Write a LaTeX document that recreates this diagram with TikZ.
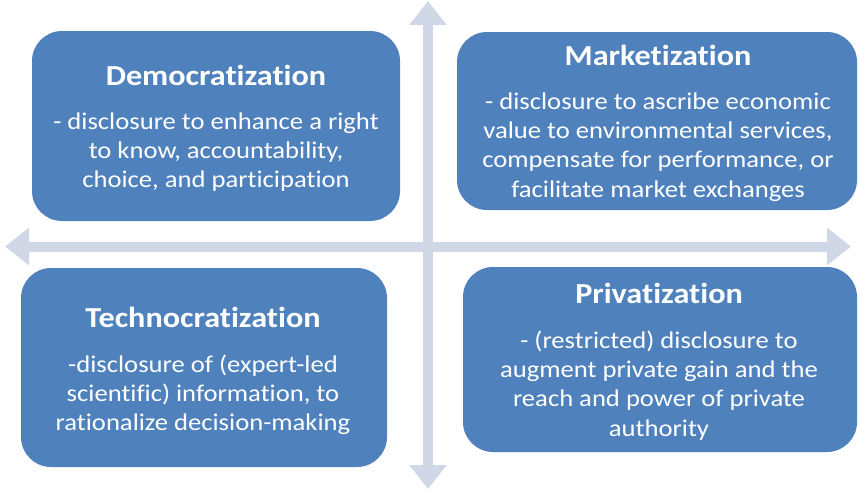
\documentclass[tikz,border=0pt]{standalone}
\usepackage{fontspec}
\setmainfont{Carlito}[FakeStretch=1.11, Ligatures=NoCommon]
\usepackage{xcolor}
\usetikzlibrary{arrows.meta,positioning}
\definecolor{quadblue}{HTML}{4F81BD}
\definecolor{axisgray}{HTML}{D0D8E8}

\begin{document}
\begin{tikzpicture}[x=1pt, y=-1pt, node distance=27pt,
    quad/.style={fill=quadblue, rounded corners=30pt, inner sep=0pt},
    head/.style={text=white, inner sep=0pt, anchor=base, font=\bfseries\fontsize{29}{34}\selectfont},
    body/.style={text=white, inner sep=0pt, align=center, font=\fontsize{24}{29.3}\selectfont},
    axis/.style={axisgray, line width=10pt, {Triangle[length=24pt,width=36pt]}-{Triangle[length=24pt,width=36pt]}}]
    \useasboundingbox (0,0) rectangle (858,490);
    \coordinate (W) at (5,246.5);
    \coordinate (E) at (851,246.5);
    \coordinate (N) at (428,1);
    \coordinate (S) at (428,489);
    \draw[axis] (W) -- (E);
    \draw[axis] (N) -- (S);
    \node[quad, minimum width=368pt, minimum height=190pt] (dem) at (216,126) {};
    \node[quad, minimum width=400pt, minimum height=178pt] (mkt) at (657,121) {};
    \node[quad, minimum width=366pt, minimum height=199pt] (tech) at (204,367.5) {};
    \node[quad, minimum width=394pt, minimum height=185pt] (priv) at (660,359.5) {};
    \node[head] (demt) at (216,85) {Democratization};
    \node[body, below=of demt] (demb) {- disclosure to enhance a right\\to know, accountability,\\choice, and participation};
    \node[head] (mktt) at (658,65) {Marketization};
    \node[body, below=of mktt] (mktb) {- disclosure to ascribe economic\\value to environmental services,\\compensate for performance, or\\facilitate market exchanges};
    \node[head] (techt) at (203,327) {Technocratization};
    \node[body, below=of techt] (techb) {-disclosure of (expert-led\\scientific) information, to\\rationalize decision-making};
    \node[head] (privt) at (659,303) {Privatization};
    \node[body, below=of privt] (privb) {- (restricted) disclosure to\\augment private gain and the\\reach and power of private\\authority};
\end{tikzpicture}
\end{document}
